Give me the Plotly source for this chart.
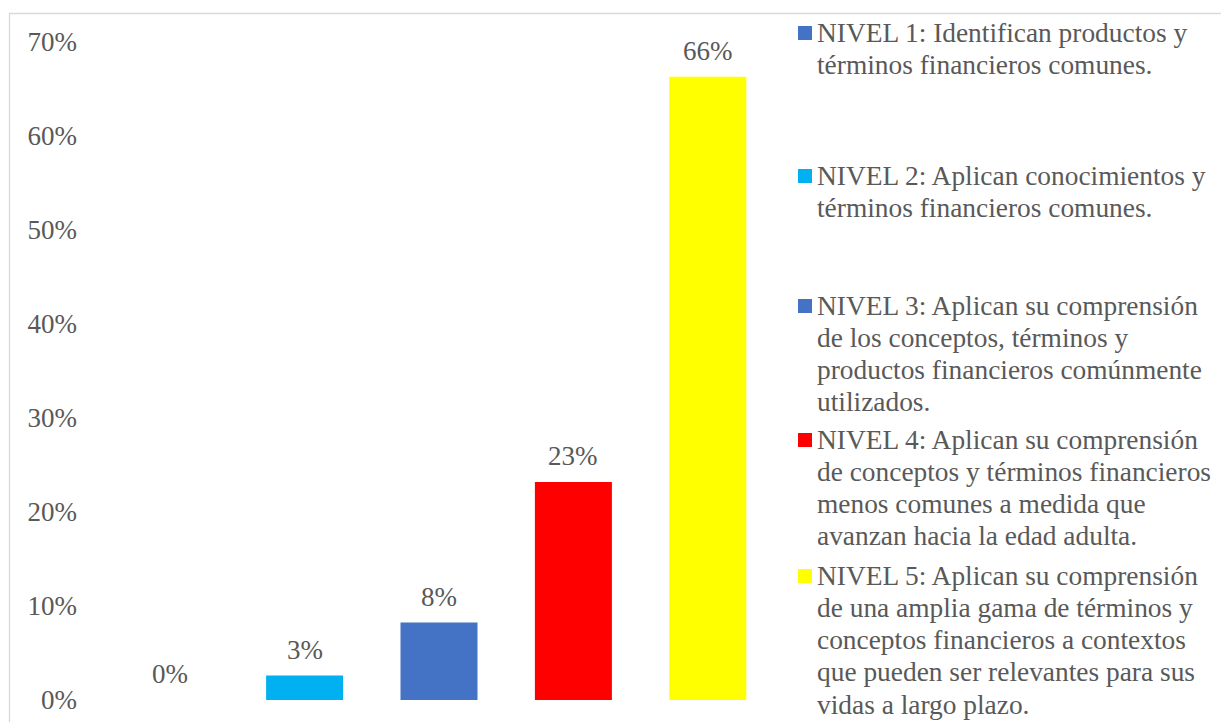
import plotly.graph_objects as go

# ---- data ----
levels = ["NIVEL 1", "NIVEL 2", "NIVEL 3", "NIVEL 4", "NIVEL 5"]
shares = [0.0, 0.026, 0.0824, 0.232, 0.663]
colors = ["#4472C4", "#00B0F0", "#4472C4", "#FF0000", "#FFFF00"]
legend_lines = [
    ["NIVEL 1: Identifican productos y", "términos financieros comunes."],
    ["NIVEL 2: Aplican conocimientos y", "términos financieros comunes."],
    ["NIVEL 3: Aplican su comprensión", "de los conceptos, términos y",
     "productos financieros comúnmente", "utilizados."],
    ["NIVEL 4: Aplican su comprensión", "de conceptos y términos financieros",
     "menos comunes a medida que", "avanzan hacia la edad adulta."],
    ["NIVEL 5: Aplican su comprensión", "de una amplia gama de términos y",
     "conceptos financieros a contextos", "que pueden ser relevantes para sus",
     "vidas a largo plazo."],
]
y_ticks = [0, 0.1, 0.2, 0.3, 0.4, 0.5, 0.6, 0.7]

# ---- layout geometry (pixels) ----
W, H = 1221, 722
L, R, T, B = 103, 446, 42, 22
PW, PH = W - L - R, H - T - B
FONT = "Liberation Serif, Times New Roman, serif"
TXT = "#595959"


def px_x(px):
    return (px - L) / PW


def px_y(py):
    return (H - B - py) / PH


fig = go.Figure()
fig.add_trace(go.Bar(
    x=levels, y=shares, marker=dict(color=colors, line=dict(width=0)),
    width=0.573, showlegend=False, hoverinfo="x+y",
))

annotations = []
# value labels above each bar
for lv, v in zip(levels, shares):
    annotations.append(dict(
        x=lv, y=v, xref="x", yref="y", text=f"{v:.0%}", showarrow=False,
        yanchor="middle", yshift=26, font=dict(family=FONT, size=27, color=TXT),
    ))

# legend block on the right
first_baselines = [42, 185, 315, 449, 585]
line_gap = 32.3
shapes = []
for lines, base, col in zip(legend_lines, first_baselines, colors):
    cy = base - 9
    shapes.append(dict(
        type="rect", xref="paper", yref="paper",
        x0=px_x(798), x1=px_x(812), y0=px_y(cy + 7), y1=px_y(cy - 7),
        fillcolor=col, line=dict(width=0),
    ))
    for i, ln in enumerate(lines):
        annotations.append(dict(
            x=px_x(815), y=px_y(base + i * line_gap - 9.5), xref="paper", yref="paper",
            text=ln, showarrow=False, xanchor="left", yanchor="middle",
            font=dict(family=FONT, size=27.4, color=TXT),
        ))

# chart-area frame
shapes.append(dict(
    type="rect", xref="paper", yref="paper",
    x0=px_x(9.5), x1=px_x(W + 20), y0=px_y(H + 20), y1=px_y(13.5),
    line=dict(color="#D9D9D9", width=1.3), fillcolor="rgba(0,0,0,0)", layer="below",
))

fig.update_layout(
    width=W, height=H,
    margin=dict(l=L, r=R, t=T, b=B, autoexpand=False),
    paper_bgcolor="white", plot_bgcolor="white",
    font=dict(family=FONT, color=TXT),
    xaxis=dict(range=[-0.5, 4.5], showticklabels=False, showgrid=False,
               zeroline=False, showline=False, ticks=""),
    yaxis=dict(range=[0, 0.7], tickvals=y_ticks, tickformat=".0%",
               showgrid=False, zeroline=False, showline=False, ticks="",
               ticklabelstandoff=25, tickfont=dict(family=FONT, size=27, color=TXT)),
    annotations=annotations, shapes=shapes, showlegend=False,
)

fig.write_html("out.html")
